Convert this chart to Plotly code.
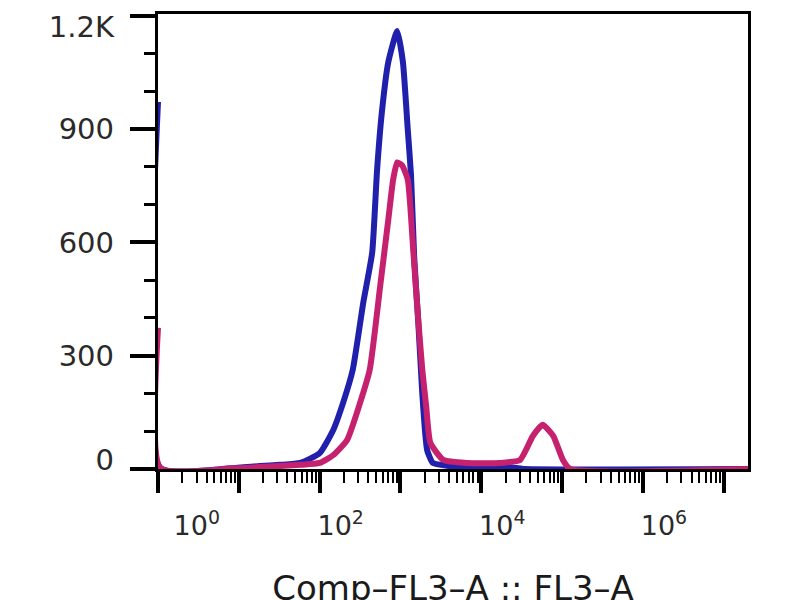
import numpy as np
import plotly.graph_objects as go

# x values are in decades (log10 units of FL3-A), y values are counts
blue_x = [0.0, 0.03, 0.9, 1.26, 1.51, 1.76, 2.0, 2.17, 2.29, 2.41, 2.54, 2.65, 2.71, 2.77, 2.85,
          2.96, 3.03, 3.09, 3.13, 3.17, 3.22, 3.27, 3.30, 3.33, 3.40, 3.6, 3.82, 4.44, 4.54, 7.3]
blue_y = [972, 3, 2, 8, 11, 16, 42, 104, 175, 263, 441, 573, 790, 945, 1078,
          1160, 1078, 900, 780, 560, 390, 200, 110, 50, 16, 8, 4, 3, 0, 0]

pink_x = [0.0, 0.03, 0.9, 1.26, 1.76, 2.0, 2.17, 2.34, 2.5, 2.62, 2.75, 2.85, 2.91, 2.96, 3.02,
          3.09, 3.16, 3.22, 3.27, 3.32, 3.37, 3.53, 3.82, 4.23, 4.48, 4.64, 4.76, 4.89, 5.01, 5.1, 7.3]
pink_y = [374, 2, 1, 5, 11, 16, 37, 77, 175, 263, 486, 661, 767, 812, 804,
          767, 573, 396, 263, 162, 69, 24, 16, 16, 24, 88, 117, 88, 24, 0, 0]

y_tickvals = [0, 300, 600, 900, 1200]
y_label_vals = [24, 300, 600, 900, 1171]
y_ticktext = ["0", "300", "600", "900", "1.2K"]
decades = [0, 1, 2, 3, 4, 5, 6, 7]
x_label_vals = [0.22, 2, 4, 6]
x_label_text = ["10<sup>0</sup>", "10<sup>2</sup>", "10<sup>4</sup>", "10<sup>6</sup>"]

x_range = [0, 7.3]
y_range = [0, 1205]
minor_vals = [d + np.log10(k) for d in range(8) for k in range(2, 10) if d + np.log10(k) < x_range[1] - 0.01]

fig = go.Figure()
fig.add_trace(go.Scatter(x=blue_x, y=blue_y, mode="lines",
                         line=dict(color="#2020ac", width=6, shape="spline", smoothing=0.5),
                         showlegend=False))
fig.add_trace(go.Scatter(x=pink_x, y=pink_y, mode="lines",
                         line=dict(color="#c6216e", width=6, shape="spline", smoothing=0.5),
                         showlegend=False))
# invisible trace to activate the label axes
fig.add_trace(go.Scatter(x=[x_range[0]], y=[0], xaxis="x2", yaxis="y2", mode="markers",
                         marker=dict(opacity=0), showlegend=False, hoverinfo="skip"))

font_fam = "DejaVu Sans"
fig.update_layout(
    width=800, height=600,
    margin=dict(l=150, r=60, t=6, b=139),
    paper_bgcolor="white", plot_bgcolor="white",
    xaxis=dict(range=x_range, showgrid=False, zeroline=False, automargin=False,
               showline=True, linecolor="black", linewidth=3, mirror=True,
               tickmode="array", tickvals=decades, ticks="outside",
               ticklen=21, tickwidth=4, tickcolor="black", showticklabels=False,
               minor=dict(tickmode="array", tickvals=minor_vals, ticks="outside",
                          ticklen=11, tickwidth=2, tickcolor="black")),
    xaxis2=dict(range=x_range, overlaying="x", anchor="y", side="bottom", automargin=False,
                showgrid=False, zeroline=False, showline=False,
                tickmode="array", tickvals=x_label_vals, ticktext=x_label_text,
                ticks="", ticklabelshift=21, ticklabelstandoff=38, ticklabeloverflow="allow",
                tickfont=dict(family=font_fam, size=27, color="#2a2a2a"),
                title=dict(text="Comp–FL3–A :: FL3–A", standoff=49,
                           font=dict(family=font_fam, size=34, color="#1a1a1a"))),
    yaxis=dict(range=y_range, showgrid=False, zeroline=False, automargin=False,
               showline=True, linecolor="black", linewidth=3, mirror=True,
               tickmode="array", tickvals=y_tickvals, showticklabels=False,
               ticks="outside", ticklen=25, tickwidth=4, tickcolor="black",
               minor=dict(dtick=100, ticks="outside", ticklen=11, tickwidth=2.5,
                          tickcolor="black")),
    yaxis2=dict(range=y_range, overlaying="y", anchor="x", side="left", automargin=False,
                showgrid=False, zeroline=False, showline=False,
                tickmode="array", tickvals=y_label_vals, ticktext=y_ticktext,
                ticks="", ticklabelstandoff=43, ticklabeloverflow="allow",
                tickfont=dict(family=font_fam, size=29, color="#2a2a2a")),
)

fig.write_html("out.html")
